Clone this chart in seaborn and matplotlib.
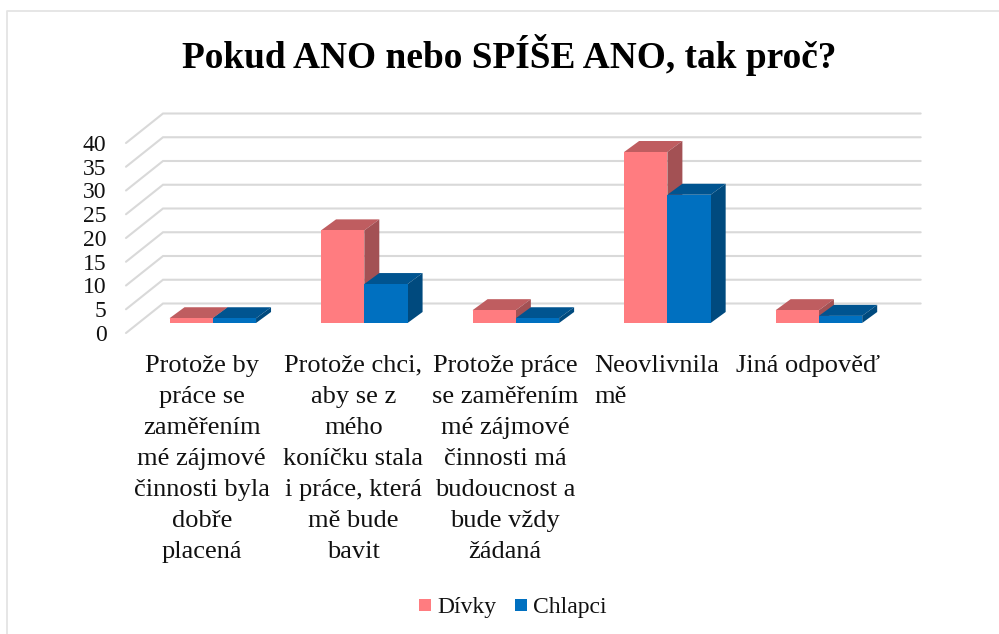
import matplotlib
matplotlib.use("Agg")
import matplotlib.pyplot as plt
import matplotlib.transforms as mtransforms
from matplotlib.lines import Line2D
import pandas as pd
import seaborn as sns

title = "Pokud ANO nebo SPÍŠE ANO, tak proč?"
categories = [
    "Protože by\npráce se\nzaměřením\nmé zájmové\nčinnosti byla\ndobře\nplacená",
    "Protože chci,\naby se z\nmého\nkoníčku stala\ni práce, která\nmě bude\nbavit",
    "Protože práce\nse zaměřením\nmé zájmové\nčinnosti má\nbudoucnost a\nbude vždy\nžádaná",
    "Neovlivnila\nmě",
    "Jiná odpověď",
]
divky = [1, 19.5, 2.7, 36, 2.7]
chlapci = [1, 8.2, 1, 27, 1.5]
y_ticks = [0, 5, 10, 15, 20, 25, 30, 35, 40]

W, H = 999, 634
# front plane of the fake 3D box, in pixels
LEFT, RIGHT, BOTTOM, TOP = 126, 883.7, 333, 143
PX_X = 5 / (RIGHT - LEFT)
PX_Y = 40 / (BOTTOM - TOP)

sns.set_theme(style="white")
plt.rcParams["font.family"] = ["Liberation Serif", "DejaVu Serif"]

fig = plt.figure(figsize=(W / 100, H / 100), dpi=100)
ax = fig.add_axes([LEFT / W, 1 - BOTTOM / H, (RIGHT - LEFT) / W, (BOTTOM - TOP) / H])

df = pd.DataFrame({
    "cat": categories * 2,
    "val": divky + chlapci,
    "who": ["Dívky"] * 5 + ["Chlapci"] * 5,
})
palette = {"Dívky": "#FF7C80", "Chlapci": "#0070C0"}
sns.barplot(data=df, x="cat", y="val", hue="who", palette=palette, width=0.571,
            gap=0, saturation=1, linewidth=0, ax=ax, legend=False)

ax.set_xlabel("")
ax.set_ylabel("")
sns.despine(ax=ax, left=True, bottom=True)

# back wall grid and the floor/side diagonals
for v in y_ticks:
    ax.plot([-0.5, -0.5 + 37 * PX_X, 4.5 + 37 * PX_X], [v, v + 29.5 * PX_Y, v + 29.5 * PX_Y],
            color="#D9D9D9", lw=1.5, clip_on=False, zorder=1, solid_joinstyle="miter")

# bars stand halfway into the box, then get a top and a side face
shift = mtransforms.ScaledTranslation(11 / 100, 10 / 100, fig.dpi_scale_trans)
faces = [("#BF5D60", "#A35154"), ("#005490", "#004A7E")]
dx, dy = 15 * PX_X, 11 * PX_Y
for i, cont in enumerate(ax.containers):
    top_c, side_c = faces[i]
    base_z = 3 + i * 2
    for bar in cont:
        x0, x1, h = bar.get_x(), bar.get_x() + bar.get_width(), bar.get_height()
        bar.set_transform(ax.transData + shift)
        bar.set_zorder(base_z + 1)
        bar.set_clip_on(False)
        ax.fill([x0, x1, x1 + dx, x0 + dx], [h, h, h + dy, h + dy], color=top_c, lw=0,
                transform=ax.transData + shift, clip_on=False, zorder=base_z)
        ax.fill([x1, x1 + dx, x1 + dx, x1], [0, dy, h + dy, h], color=side_c, lw=0,
                transform=ax.transData + shift, clip_on=False, zorder=base_z)
ax.set_xlim(-0.5, 4.5)
ax.set_ylim(0, 40)

ax.set_yticks(y_ticks)
ax.set_yticklabels([str(v) for v in y_ticks], fontsize=17, color="#111111", va="center_baseline")
ax.tick_params(axis="y", length=0, pad=14)
ax.set_xticks(range(5))
ax.set_xticklabels(categories, fontsize=19, color="#111111", linespacing=1.53)
ax.tick_params(axis="x", length=0, pad=15.5)
for i, lab in enumerate(ax.get_xticklabels()):
    lab.set_multialignment("left" if i == 3 else "center")

fig.text(509.5 / W, 1 - 68 / H, title, fontsize=26.9, fontweight="bold", ha="center",
         va="baseline", color="black")

handles = [Line2D([], [], marker="s", ls="", ms=8.6, mew=0, color=palette[k]) for k in palette]
fig.legend(handles, list(palette), loc="center", bbox_to_anchor=(512.5 / W, 1 - 607 / H), ncol=2,
           frameon=False, fontsize=17, handlelength=0.6, handletextpad=0.2, columnspacing=0.75,
           labelcolor="#111111")

# thin frame of the original chart, only top and left are in the crop
fig.add_artist(Line2D([6.5 / W, 6.5 / W, 1], [0, 1 - 11 / H, 1 - 11 / H], color="#E4E4E4", lw=1.3))

fig.savefig("out.png", dpi=100)
